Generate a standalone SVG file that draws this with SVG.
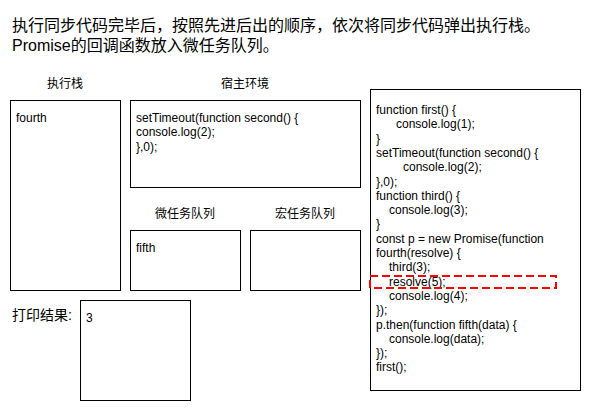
<svg xmlns="http://www.w3.org/2000/svg" width="591" height="411" viewBox="0 0 591 411">
<style>
text{font-family:"Liberation Sans","Noto Sans CJK SC",sans-serif;fill:#000;}
.t{font-size:16px;}
.l{font-size:12px;text-anchor:middle;}
.c{font-size:12px;}
.box{fill:#fff;stroke:#000;stroke-width:1;}
</style>
<rect width="591" height="411" fill="#fff"/>
<g id="title">
<text class="t" x="12" y="30.5">执行同步代码完毕后，按照先进后出的顺序，依次将同步代码弹出执行栈。</text>
<text class="t" x="12" y="51">Promise的回调函数放入微任务队列。</text>
</g>
<g id="stack">
<text class="l" x="65" y="88">执行栈</text>
<rect class="box" x="10.5" y="100.5" width="110" height="190"/>
<text class="c" x="16" y="122">fourth</text>
</g>
<g id="host">
<text class="l" x="245" y="88">宿主环境</text>
<rect class="box" x="130.5" y="100.5" width="230" height="87"/>
<text class="c" x="136" y="122">setTimeout(function second() {</text>
<text class="c" x="136" y="136.3">console.log(2);</text>
<text class="c" x="136" y="150.6">},0);</text>
</g>
<g id="micro">
<text class="l" x="185" y="218">微任务队列</text>
<rect class="box" x="130.5" y="230.5" width="110" height="60"/>
<text class="c" x="136" y="252">fifth</text>
</g>
<g id="macro">
<text class="l" x="305" y="218">宏任务队列</text>
<rect class="box" x="250.5" y="230.5" width="110" height="60"/>
</g>
<g id="print">
<text x="12" y="320" style="font-size:14px">打印结果:</text>
<rect class="box" x="80.5" y="300.5" width="110" height="100"/>
<text class="c" x="86" y="322">3</text>
</g>
<g id="code">
<rect class="box" x="370.5" y="89.5" width="210" height="301"/>
<text class="c" x="376" y="114">function first() {</text>
<text class="c" x="396" y="128.3">console.log(1);</text>
<text class="c" x="376" y="142.6">}</text>
<text class="c" x="376" y="156.9">setTimeout(function second() {</text>
<text class="c" x="403" y="171.2">console.log(2);</text>
<text class="c" x="376" y="185.5">},0);</text>
<text class="c" x="376" y="199.8">function third() {</text>
<text class="c" x="389" y="214.1">console.log(3);</text>
<text class="c" x="376" y="228.4">}</text>
<text class="c" x="376" y="242.7">const p = new Promise(function</text>
<text class="c" x="376" y="257">fourth(resolve) {</text>
<text class="c" x="389" y="271.3">third(3);</text>
<text class="c" x="389" y="285.6">resolve(5);</text>
<text class="c" x="389" y="299.9">console.log(4);</text>
<text class="c" x="376" y="314.2">});</text>
<text class="c" x="376" y="328.5">p.then(function fifth(data) {</text>
<text class="c" x="389" y="342.8">console.log(data);</text>
<text class="c" x="376" y="357.1">});</text>
<text class="c" x="376" y="371.4">first();</text>
</g>
<g id="highlight">
<rect x="370" y="276" width="186" height="12" fill="none" stroke="#ff0000" stroke-width="2" stroke-dasharray="8 4"/>
</g>
</svg>
